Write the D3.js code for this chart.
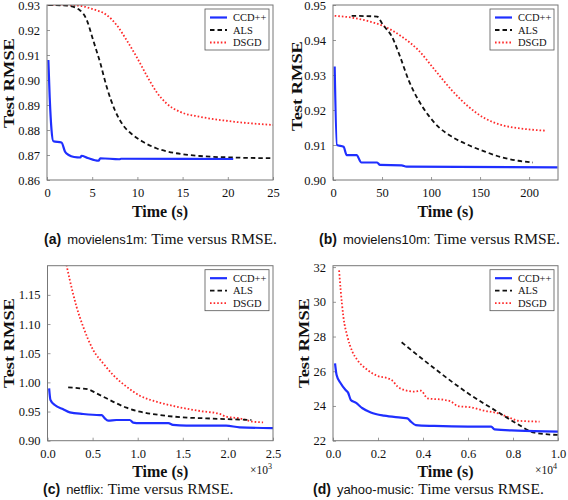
<!DOCTYPE html>
<html><head><meta charset="utf-8">
<script src="https://cdn.jsdelivr.net/npm/d3@7"></script>
<style>
html,body{margin:0;padding:0;background:#fff;}
svg{display:block;}
</style></head>
<body>
<svg id="chart" width="568" height="500"></svg>
<script>
// ---------- DATA ----------
const seriesNames = ["CCD++", "ALS", "DSGD"];

// (a) movielens1m
const ml1mCCD = [[0.15,0.908],[0.3,0.893],[0.5,0.880],[0.7,0.8755],[1.6,0.875],[2.0,0.8713],[2.4,0.870],[3.0,0.8692],[3.7,0.8690],[3.8,0.8697],[4.5,0.8688],[5.7,0.8677],[5.9,0.8687],[8.0,0.8683],[8.2,0.8685],[20.6,0.8684]];
const ml1mALS = [[0.15,0.930],[2.2,0.9298],[3.6,0.928],[4.4,0.924],[5.1,0.916],[5.9,0.9067],[6.6,0.8973],[7.5,0.888],[8.4,0.882],[9.5,0.878],[10.6,0.8753],[12.1,0.8727],[14.3,0.8707],[16.9,0.8696],[20.6,0.869],[25,0.8687]];
const ml1mDSGD = [[0.15,0.930],[3.3,0.9298],[5.1,0.9283],[6.6,0.926],[7.7,0.922],[8.8,0.916],[9.9,0.9093],[11.0,0.902],[12.1,0.8953],[13.2,0.8907],[14.7,0.8873],[16.9,0.8853],[19.8,0.8837],[25,0.882]];

// (b) movielens10m
const ml10mCCD = [[1.7,0.9324],[4,0.910],[10.8,0.9095],[14,0.9071],[24,0.9071],[29,0.905],[45,0.905],[48,0.9043],[70,0.9042],[75,0.9038],[229,0.9036]];
const ml10mALS = [[19,0.9469],[45,0.9467],[51,0.9443],[60,0.941],[68.5,0.9352],[77,0.9286],[87,0.9229],[97,0.9186],[107.5,0.9152],[121,0.9124],[138,0.910],[155,0.9081],[172,0.9065],[189,0.9055],[204,0.905]];
const ml10mDSGD = [[1.7,0.9469],[19,0.9464],[36,0.9454],[53,0.9438],[70,0.941],[87,0.9371],[104,0.9314],[121,0.9257],[138,0.921],[155,0.9176],[172,0.9157],[189,0.9148],[206,0.9143],[217,0.9141]];

// (c) netflix  (time in 10^3 s)
const nfCCD = [[0.018,0.9898],[0.033,0.9698],[0.081,0.9612],[0.174,0.9538],[0.247,0.9486],[0.395,0.9458],[0.58,0.944],[0.6,0.944],[0.635,0.9383],[0.672,0.9343],[0.764,0.9355],[0.912,0.9355],[0.95,0.931],[1.02,0.930],[1.34,0.930],[1.39,0.927],[1.54,0.9257],[1.98,0.9257],[2.13,0.9229],[2.5,0.9217]];
const nfALS = [[0.229,0.9915],[0.358,0.9898],[0.45,0.9881],[0.543,0.9812],[0.654,0.9727],[0.764,0.9641],[0.875,0.9566],[1.023,0.9498],[1.245,0.944],[1.503,0.940],[1.76,0.9383],[2.06,0.9366],[2.26,0.9355]];
const nfDSGD = [[0.21,1.2015],[0.247,1.1757],[0.321,1.13],[0.395,1.0957],[0.506,1.0556],[0.617,1.0327],[0.727,1.0127],[0.875,0.9927],[1.023,0.9772],[1.207,0.9669],[1.43,0.9584],[1.69,0.9509],[1.91,0.9458],[1.98,0.9412],[2.13,0.9383],[2.28,0.9326],[2.39,0.9315]];

// (d) yahoo-music  (time in 10^4 s)
const ymCCD = [[0.009,26.46],[0.016,25.79],[0.034,25.31],[0.056,24.92],[0.067,24.77],[0.079,24.35],[0.101,24.19],[0.131,23.87],[0.168,23.63],[0.227,23.44],[0.302,23.33],[0.331,23.29],[0.346,23.1],[0.368,22.9],[0.45,22.85],[0.6,22.81],[0.703,22.81],[0.718,22.65],[0.82,22.58],[1.0,22.52]];
const ymALS = [[0.305,27.67],[0.45,26.17],[0.6,24.73],[0.747,23.54],[0.82,22.96],[0.896,22.46],[1.0,22.33]];
const ymDSGD = [[0.027,31.81],[0.034,30.69],[0.046,29.15],[0.064,28.0],[0.086,27.13],[0.108,26.65],[0.153,26.08],[0.198,25.73],[0.242,25.6],[0.264,25.46],[0.287,25.12],[0.316,24.92],[0.361,24.83],[0.391,24.88],[0.42,24.44],[0.495,24.35],[0.525,24.25],[0.554,24.0],[0.614,23.92],[0.673,23.73],[0.733,23.58],[0.792,23.29],[0.822,23.15],[0.918,23.1]];

// tick labels
const ticksAx = [0,5,10,15,20,25];
const ticksAy = [0.86,0.87,0.88,0.89,0.90,0.91,0.92,0.93];
const ticksBx = [0,50,100,150,200];
const ticksBy = [0.90,0.91,0.92,0.93,0.94,0.95];
const ticksCx = [0,0.5,1.0,1.5,2.0,2.5];
const ticksCy = [0.90,0.95,1.00,1.05,1.10,1.15];
const ticksDx = [0,0.2,0.4,0.6,0.8,1.0];
const ticksDy = [22,24,26,28,30,32];

// ---------- DRAW ----------
const svg = d3.select("#chart");
const colors = ["#1f2fff", "#111111", "#ff2a2a"];
const dashes = [null, "4.5,3", "1.6,2"];
const serif = "'Liberation Serif', 'Times New Roman', serif";
const sans = "'Liberation Sans', Arial, sans-serif";

const panels = [
  {id:"a", left:47, right:273, top:5, bottom:180, xd:[0,25], yd:[0.86,0.93], xt:ticksAx, yt:ticksAy, xf:d3.format("d"), yf:d3.format(".2f"),
   series:[ml1mCCD, ml1mALS, ml1mDSGD], ylabX:14, ylabY:83, name:"movielens1m:", capX:44, capY:244, timeY:217, mult:null},
  {id:"b", left:333, right:558, top:5, bottom:180, xd:[0,229.5], yd:[0.90,0.95], xt:ticksBx, yt:ticksBy, xf:d3.format("d"), yf:d3.format(".2f"),
   series:[ml10mCCD, ml10mALS, ml10mDSGD], ylabX:302, ylabY:86, name:"movielens10m:", capX:319, capY:244, timeY:217, mult:null},
  {id:"c", left:47.5, right:273, top:265.7, bottom:440.7, xd:[0,2.5], yd:[0.90,1.2], xt:ticksCx, yt:ticksCy, xf:d3.format(".1f"), yf:d3.format(".2f"),
   series:[nfCCD, nfALS, nfDSGD], ylabX:14, ylabY:343, name:"netflix:", capX:43, capY:494, timeY:477, mult:"3"},
  {id:"d", left:333, right:558, top:265.7, bottom:440.7, xd:[0,1.0], yd:[22,32.08], xt:ticksDx, yt:ticksDy, xf:d3.format(".1f"), yf:d3.format("d"),
   series:[ymCCD, ymALS, ymDSGD], ylabX:309, ylabY:343, name:"yahoo-music:", capX:313, capY:494, timeY:477, mult:"4"}
];

panels.forEach(p => {
  const x = d3.scaleLinear().domain(p.xd).range([p.left, p.right]);
  const y = d3.scaleLinear().domain(p.yd).range([p.bottom, p.top]);
  const g = svg.append("g");

  const clipId = "clip-" + p.id;
  g.append("clipPath").attr("id", clipId).append("rect")
    .attr("x", p.left).attr("y", p.top).attr("width", p.right - p.left).attr("height", p.bottom - p.top);

  // axes with inward ticks
  const xAxis = d3.axisBottom(x).tickValues(p.xt).tickFormat(p.xf).tickSize(-3).tickPadding(8);
  const yAxis = d3.axisLeft(y).tickValues(p.yt).tickFormat(p.yf).tickSize(-3).tickPadding(7);
  const gx = g.append("g").attr("transform", `translate(0,${p.bottom})`).call(xAxis);
  const gy = g.append("g").attr("transform", `translate(${p.left},0)`).call(yAxis);
  [gx, gy].forEach(a => {
    a.select(".domain").remove();
    a.selectAll(".tick line").attr("stroke", "#999").attr("stroke-width", 1);
    a.selectAll(".tick text").attr("font-family", serif).attr("font-size", 12.5).attr("fill", "#111");
  });
  gx.selectAll(".tick text").attr("dy", "0.71em");

  // lines
  const line = d3.line().x(d => x(d[0])).y(d => y(d[1])).curve(d3.curveMonotoneX);
  const lg = g.append("g").attr("clip-path", `url(#${clipId})`);
  [2,1,0].forEach(i => {
    lg.append("path").datum(p.series[i])
      .attr("d", line).attr("fill", "none")
      .attr("stroke", colors[i]).attr("stroke-width", i === 0 ? 2.2 : 1.8)
      .attr("stroke-dasharray", dashes[i]);
  });

  // frame
  g.append("rect").attr("x", p.left).attr("y", p.top)
    .attr("width", p.right - p.left).attr("height", p.bottom - p.top)
    .attr("fill", "none").attr("stroke", "#777").attr("stroke-width", 1);

  // legend
  const lx = p.right - 68, ly = p.top + 4;
  g.append("rect").attr("x", lx).attr("y", ly).attr("width", 64).attr("height", 41)
    .attr("fill", "#fff").attr("stroke", "#555").attr("stroke-width", 0.8);
  seriesNames.forEach((n, i) => {
    const yy = ly + 8.5 + i * 12.5;
    g.append("line").attr("x1", lx + 5).attr("x2", lx + 22).attr("y1", yy).attr("y2", yy)
      .attr("stroke", colors[i]).attr("stroke-width", i === 0 ? 2.2 : 1.8).attr("stroke-dasharray", dashes[i]);
    g.append("text").attr("x", lx + 28).attr("y", yy + 3.5).text(n)
      .attr("font-family", serif).attr("font-size", 10.5).attr("fill", "#111");
  });

  // axis titles
  g.append("text").attr("x", (p.left + p.right) / 2).attr("y", p.timeY)
    .attr("text-anchor", "middle").attr("font-family", serif).attr("font-weight", "bold")
    .attr("font-size", 16).attr("fill", "#111").text("Time (s)");
  g.append("text").attr("transform", `translate(${p.ylabX},${p.ylabY}) rotate(-90) scale(1.15,0.9)`)
    .attr("text-anchor", "middle").attr("font-family", serif).attr("font-weight", "bold")
    .attr("font-size", 16).attr("fill", "#111").text("Test RMSE");

  if (p.mult) {
    const t = g.append("text").attr("x", p.right - 23).attr("y", p.bottom + 33)
      .attr("font-family", serif).attr("font-size", 11.5).attr("fill", "#111");
    t.append("tspan").text("×10");
    t.append("tspan").attr("dy", -5).attr("font-size", 8).text(p.mult);
  }

  // caption
  const c = g.append("text").attr("x", p.capX).attr("y", p.capY).attr("fill", "#111");
  c.append("tspan").attr("font-family", sans).attr("font-weight", "bold").attr("font-size", 14).text(`(${p.id})`);
  c.append("tspan").attr("font-family", sans).attr("font-size", 13).attr("dx", 6).text(p.name);
  c.append("tspan").attr("font-family", serif).attr("font-size", 15.5).attr("dx", 4).text("Time versus RMSE.");
});
</script>
</body></html>
